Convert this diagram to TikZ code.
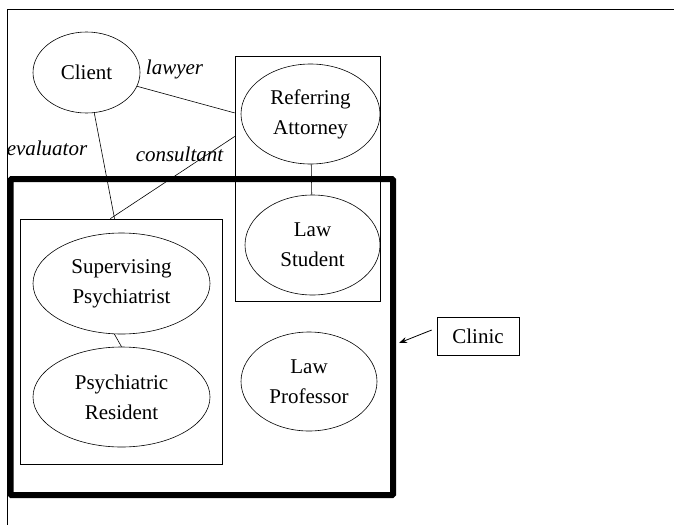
\documentclass[tikz,border=0pt]{standalone}
\usepackage{fontspec}
\setmainfont{Liberation Serif}
\usetikzlibrary{shapes.geometric,arrows.meta}

\tikzset{
  role/.style={ellipse, draw, line width=0.6pt, inner sep=0pt, align=center},
  group/.style={rectangle, draw, line width=0.6pt, inner sep=0pt},
  tag/.style={inner sep=0pt, font=\fontsize{21}{30}\selectfont\itshape}
}

\begin{document}
\begin{tikzpicture}[x=1pt,y=-1pt,font=\fontsize{21}{30}\selectfont]
\useasboundingbox (0,0) rectangle (674,525);
\draw [line width=0.6pt] (674,9) -- (7,9) -- (7,525);

% groups
\node (refbox) [group, minimum width=145pt, minimum height=245pt] at (307.5,178.5) {};
\node (psybox) [group, minimum width=202pt, minimum height=245pt] at (121,341.5) {};
\node (clinicframe) [rectangle, draw, line width=6pt, rounded corners=1pt,
  minimum width=382.5pt, minimum height=316pt] at (201.75,337) {};

% people
\node (client) [role, minimum width=107pt, minimum height=81pt] at (86.5,72.5) {Client};
\node (attorney) [role, minimum width=139pt, minimum height=100pt] at (310.5,114) {Referring\\Attorney};
\node (student) [role, minimum width=135pt, minimum height=100pt] at (312.5,245) {Law\\Student};
\node (supervisor) [role, minimum width=177pt, minimum height=101pt] at (121.5,283.5) {Supervising\\Psychiatrist};
\node (resident) [role, minimum width=177pt, minimum height=100pt] at (121.5,397) {Psychiatric\\Resident};
\node (professor) [role, minimum width=136pt, minimum height=99pt] at (309,381.5) {Law\\Professor};

\node (clinic) [rectangle, draw, line width=0.6pt, minimum width=82pt, minimum height=38pt] at (478,336) {Clinic};

% labels
\node (lawyer) [tag] at (174.5,69) {lawyer};
\node (evaluator) [tag] at (47,148) {evaluator};
\node (consultant) [tag] at (179.5,154.5) {consultant};

% links
\draw [line width=0.6pt] (client) -- (refbox.138);
\draw [line width=0.6pt] (client) -- (psybox.93);
\draw [line width=0.6pt] (refbox.150) -- (psybox.95);
\draw [line width=0.6pt] (attorney) -- (student);
\draw [line width=0.6pt] (supervisor.262) -- (resident.north);
\draw [line width=0.8pt, -{Stealth[length=8pt,width=6pt]}] ([shift={(-5,-6)}]clinic.west) -- ([shift={(3,6)}]clinicframe.east);
\end{tikzpicture}
\end{document}
